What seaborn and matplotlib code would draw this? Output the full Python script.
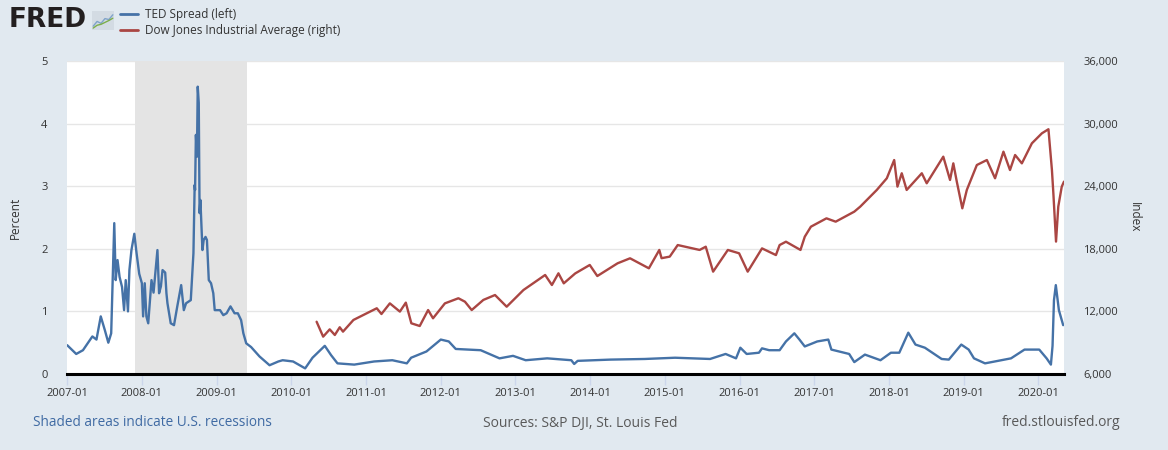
import pandas as pd
import matplotlib
matplotlib.use("Agg")
import matplotlib.pyplot as plt
import matplotlib.dates as mdates
import matplotlib.ticker as mticker
from matplotlib.lines import Line2D
import seaborn as sns

# TED spread (left axis, percent)
ted_dates = [
    "2007-01-02", "2007-02-15", "2007-03-20", "2007-05-05", "2007-05-25", "2007-06-15",
    "2007-07-05", "2007-07-22", "2007-08-05", "2007-08-20", "2007-08-27", "2007-09-05",
    "2007-09-15", "2007-09-27", "2007-10-07", "2007-10-15", "2007-10-26", "2007-11-02",
    "2007-11-12", "2007-11-26", "2007-12-07", "2007-12-20", "2008-01-02", "2008-01-08",
    "2008-01-16", "2008-01-24", "2008-02-02", "2008-02-18", "2008-02-28", "2008-03-18",
    "2008-03-26", "2008-04-04", "2008-04-12", "2008-04-25", "2008-05-01", "2008-05-06",
    "2008-05-22", "2008-06-07", "2008-06-23", "2008-07-12", "2008-07-25", "2008-08-05",
    "2008-08-28", "2008-09-10", "2008-09-16", "2008-09-18", "2008-09-22", "2008-09-27",
    "2008-10-01", "2008-10-06", "2008-10-10", "2008-10-14", "2008-10-24", "2008-10-30",
    "2008-11-08", "2008-11-15", "2008-11-24", "2008-12-05", "2008-12-16", "2008-12-23",
    "2009-01-18", "2009-02-03", "2009-02-19", "2009-03-10", "2009-03-30", "2009-04-15",
    "2009-05-01", "2009-05-12", "2009-05-26", "2009-06-19", "2009-07-30", "2009-09-17",
    "2009-10-30", "2009-11-20", "2010-01-10", "2010-03-10", "2010-04-15", "2010-06-14",
    "2010-07-15", "2010-08-15", "2010-11-05", "2011-02-10", "2011-05-10", "2011-07-20",
    "2011-08-10", "2011-10-24", "2012-01-02", "2012-02-10", "2012-03-15", "2012-07-15",
    "2012-10-15", "2012-12-20", "2013-02-20", "2013-06-05", "2013-10-01", "2013-10-15",
    "2013-11-01", "2014-04-10", "2014-09-25", "2015-02-20", "2015-08-10", "2015-10-25",
    "2015-12-15", "2016-01-05", "2016-02-05", "2016-04-05", "2016-04-20", "2016-05-25",
    "2016-07-15", "2016-08-15", "2016-09-25", "2016-10-20", "2016-11-15", "2017-01-15",
    "2017-03-10", "2017-03-25", "2017-06-20", "2017-07-15", "2017-09-05", "2017-11-20",
    "2018-01-10", "2018-02-20", "2018-04-05", "2018-05-10", "2018-06-25", "2018-09-15",
    "2018-10-20", "2018-12-20", "2019-01-25", "2019-02-20", "2019-04-15", "2019-07-05",
    "2019-08-20", "2019-10-25", "2020-01-05", "2020-02-10", "2020-03-02", "2020-03-10",
    "2020-03-17", "2020-03-26", "2020-04-10", "2020-05-01",
]
ted_values = [
    0.46, 0.32, 0.38, 0.60, 0.55, 0.92,
    0.70, 0.50, 0.65, 2.41, 1.50, 1.82,
    1.55, 1.39, 1.02, 1.50, 1.00, 1.66,
    1.98, 2.24, 1.93, 1.60, 1.45, 0.92,
    1.45, 0.92, 0.81, 1.50, 1.30, 1.98,
    1.29, 1.40, 1.66, 1.62, 1.29, 1.13,
    0.81, 0.78, 1.08, 1.42, 1.02, 1.13,
    1.18, 1.93, 3.02, 2.94, 3.82, 3.47,
    4.59, 4.33, 2.57, 2.78, 1.98, 2.14,
    2.19, 2.14, 1.50, 1.45, 1.29, 1.02,
    1.02, 0.94, 0.97, 1.08, 0.97, 0.97,
    0.86, 0.65, 0.49, 0.43, 0.28, 0.14,
    0.20, 0.22, 0.20, 0.09, 0.26, 0.45,
    0.30, 0.17, 0.15, 0.20, 0.22, 0.17,
    0.26, 0.36, 0.55, 0.52, 0.40, 0.38,
    0.25, 0.29, 0.22, 0.25, 0.22, 0.16,
    0.21, 0.23, 0.24, 0.26, 0.24, 0.32,
    0.25, 0.42, 0.32, 0.34, 0.41, 0.38,
    0.38, 0.52, 0.65, 0.55, 0.44, 0.52,
    0.55, 0.39, 0.32, 0.19, 0.31, 0.22,
    0.34, 0.34, 0.66, 0.47, 0.42, 0.24,
    0.23, 0.47, 0.39, 0.25, 0.17, 0.22,
    0.25, 0.39, 0.39, 0.25, 0.15, 0.45,
    1.18, 1.42, 1.02, 0.78,
]

# Dow Jones Industrial Average (right axis, index)
djia_dates = [
    "2010-05-05", "2010-06-06", "2010-07-08", "2010-08-02", "2010-08-26", "2010-09-11",
    "2010-11-01", "2011-02-23", "2011-03-18", "2011-04-28", "2011-06-16", "2011-07-15",
    "2011-08-11", "2011-09-21", "2011-11-01", "2011-11-25", "2012-01-22", "2012-03-28",
    "2012-04-29", "2012-06-01", "2012-07-28", "2012-09-23", "2012-11-19", "2013-02-09",
    "2013-05-26", "2013-06-28", "2013-07-30", "2013-08-25", "2013-10-20", "2013-12-30",
    "2014-02-05", "2014-05-15", "2014-07-15", "2014-10-15", "2014-12-05", "2014-12-16",
    "2015-01-25", "2015-03-05", "2015-06-20", "2015-07-20", "2015-08-25", "2015-11-05",
    "2015-12-30", "2016-02-10", "2016-04-20", "2016-06-27", "2016-07-15", "2016-08-15",
    "2016-10-25", "2016-11-15", "2016-12-15", "2017-03-01", "2017-04-15", "2017-07-15",
    "2017-08-13", "2017-11-02", "2017-12-21", "2018-01-26", "2018-02-11", "2018-03-04",
    "2018-03-28", "2018-06-10", "2018-07-04", "2018-09-23", "2018-10-26", "2018-11-11",
    "2018-11-28", "2018-12-25", "2019-01-16", "2019-03-06", "2019-04-24", "2019-06-03",
    "2019-07-14", "2019-08-15", "2019-09-09", "2019-10-12", "2019-11-30", "2020-01-18",
    "2020-02-19", "2020-03-07", "2020-03-14", "2020-03-27", "2020-04-07", "2020-04-24",
    "2020-05-05",
]
djia_values = [
    11010, 9580, 10280, 9740, 10480, 10060,
    11180, 12300, 11750, 12770, 11980, 12840,
    10860, 10600, 12130, 11340, 12770, 13260,
    12930, 12130, 13100, 13570, 12450, 14050,
    15490, 14530, 15650, 14690, 15640, 16450,
    15390, 16610, 17090, 16130, 17890, 17100,
    17250, 18360, 17890, 18200, 15810, 17890,
    17570, 15810, 18040, 17400, 18360, 18680,
    17890, 19160, 20120, 20920, 20600, 21560,
    22040, 23640, 24760, 26510, 23960, 25240,
    23640, 25240, 24280, 26830, 24600, 26190,
    24440, 21880, 23640, 26030, 26510, 24760,
    27310, 25550, 26990, 26190, 28110, 29070,
    29460, 25550, 23320, 18690, 22040, 23960,
    24440,
]

recession_start = "2007-12-01"
recession_end = "2009-06-01"
left_ticks = [0, 1, 2, 3, 4, 5]
right_ticks = [6000, 12000, 18000, 24000, 30000, 36000]

# little logo chart
icon_blue = [0.2, 0.45, 0.35, 0.6, 0.55, 0.8]
icon_green = [0.1, 0.25, 0.3, 0.4, 0.5, 0.62]

sns.set_theme(style="white")
plt.rcParams['font.family'] = ['Open Sans', 'DejaVu Sans']

bg = '#e1e9f0'
blue = '#4572a7'
red = '#aa4643'
txt = '#333333'

fig = plt.figure(figsize=(11.68, 4.5), dpi=100, facecolor=bg)
ax = fig.add_axes([67 / 1168, 76 / 450, 997 / 1168, 313 / 450])
ax.set_facecolor('white')

ax.axvspan(pd.Timestamp(recession_start), pd.Timestamp(recession_end),
           color='#e4e4e4', lw=0, zorder=1)
sns.lineplot(x=pd.to_datetime(ted_dates), y=ted_values, ax=ax, color=blue,
             lw=1.7, label='TED Spread (left)', zorder=3)

ax2 = ax.twinx()
sns.lineplot(x=pd.to_datetime(djia_dates), y=djia_values, ax=ax2, color=red,
             lw=1.7, label='Dow Jones Industrial Average (right)', zorder=3)

ax.set_xlim(pd.Timestamp('2007-01-01'), pd.Timestamp('2020-05-05'))
ax.set_ylim(0, 5)
ax2.set_ylim(6000, 36000)
ax.set_yticks(left_ticks)
ax2.set_yticks(right_ticks)
ax2.yaxis.set_major_formatter(mticker.StrMethodFormatter('{x:,.0f}'))

ax.grid(axis='y', color='#e6e6e6', lw=1)
ax.set_axisbelow(True)

for s in ax.spines.values():
    s.set_visible(False)
for s in ax2.spines.values():
    s.set_visible(False)
ax.spines['bottom'].set_visible(True)
ax.spines['bottom'].set_color('black')
ax.spines['bottom'].set_linewidth(2.2)
ax.spines['bottom'].set_zorder(4)

ax.xaxis.set_major_locator(mdates.YearLocator())
ax.xaxis.set_major_formatter(mdates.DateFormatter('%Y-%m'))
ax.tick_params(axis='x', bottom=True, length=8, width=1, color='#ccd6eb',
               labelsize=8, labelcolor=txt, pad=2)
ax.tick_params(axis='y', left=False, length=0, pad=14, labelsize=8, labelcolor=txt)
ax2.tick_params(axis='y', right=False, length=0, pad=14, labelsize=8, labelcolor=txt)

ax.set_xlabel('')
ax.set_ylabel('Percent', fontsize=8.5, color=txt)
ax.yaxis.set_label_coords(-0.045, 0.5)
ax2.set_ylabel('Index', fontsize=8.5, color=txt, rotation=270, va='center')
ax2.yaxis.set_label_coords(1.071, 0.5)

# legend in header
h1, l1 = ax.get_legend_handles_labels()
h2, l2 = ax2.get_legend_handles_labels()
ax.get_legend().remove()
ax2.get_legend().remove()
handles = [Line2D([], [], color=blue, lw=2), Line2D([], [], color=red, lw=2)]
fig.legend(handles, l1 + l2, loc='upper left', bbox_to_anchor=(120 / 1168, 1 - 8 / 450),
           frameon=False, fontsize=8.5, handlelength=1.5, handletextpad=0.6,
           labelspacing=0.25, borderpad=0, borderaxespad=0, labelcolor=txt)

# logo
fig.text(9 / 1168, 1 - 20 / 450, 'FRED', fontsize=19, fontweight='bold',
         color='#231f20', va='center', ha='left', family='DejaVu Sans')
logo = fig.add_axes([92 / 1168, 1 - 30 / 450, 22 / 1168, 19 / 450])
logo.set_facecolor('#d3dbe3')
logo.plot(range(len(icon_blue)), icon_blue, color='#7fa3c9', lw=1)
logo.plot(range(len(icon_green)), icon_green, color='#7cae4a', lw=1)
logo.set_xlim(-0.3, len(icon_blue) - 0.7)
logo.set_ylim(0, 1)
logo.set_xticks([])
logo.set_yticks([])
for s in logo.spines.values():
    s.set_visible(False)

# footer
fig.text(33 / 1168, 1 - 423 / 450, 'Shaded areas indicate U.S. recessions',
         fontsize=9.8, color='#3f6aa3', va='center', ha='left')
fig.text(580 / 1168, 1 - 423 / 450, 'Sources: S&P DJI, St. Louis Fed',
         fontsize=10, color='#595959', va='center', ha='center')
fig.text(1120 / 1168, 1 - 423 / 450, 'fred.stlouisfed.org',
         fontsize=10, color='#595959', va='center', ha='right')

fig.savefig('out.png', dpi=100, facecolor=bg)
